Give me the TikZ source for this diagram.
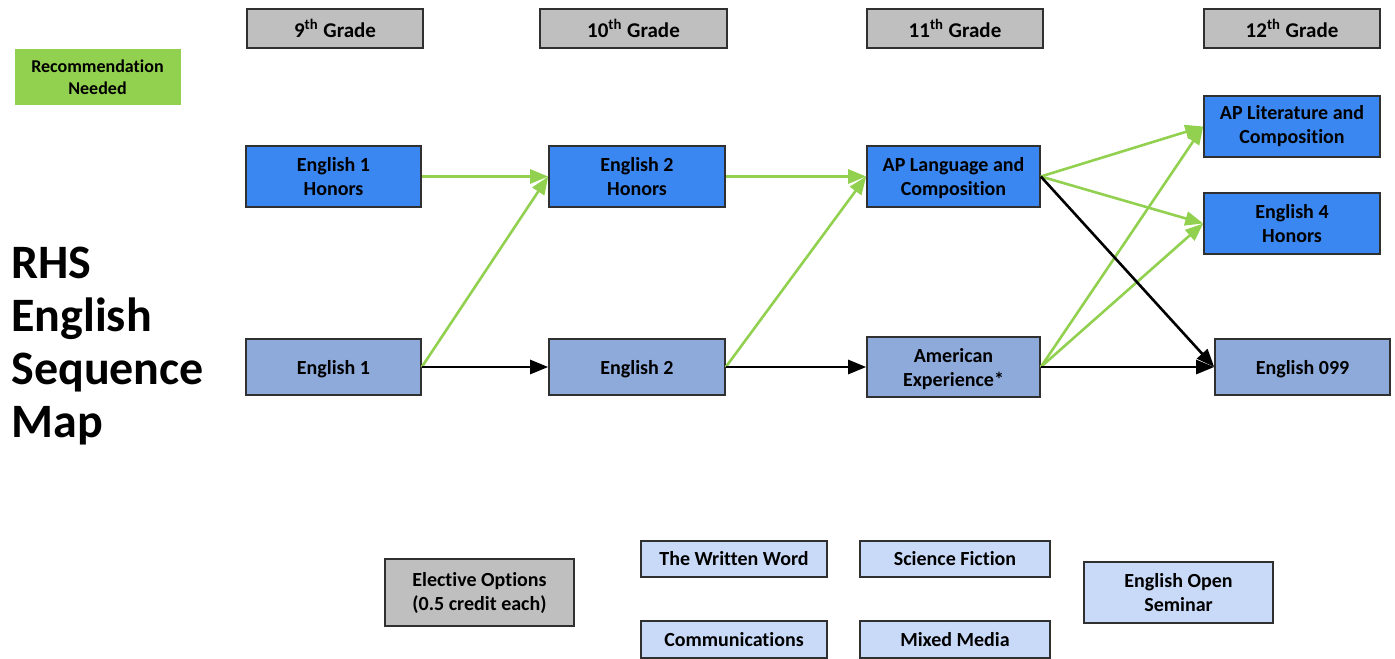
\documentclass[tikz,border=0pt]{standalone}
\usepackage{fontspec}
\setmainfont{Carlito}[Ligatures=NoCommon]
\usetikzlibrary{arrows.meta}

\definecolor{recgreen}{HTML}{92D050}
\definecolor{gradegray}{HTML}{BFBFBF}
\definecolor{honblue}{HTML}{3A87F2}
\definecolor{regblue}{HTML}{8EAADB}
\definecolor{elecblue}{HTML}{C9DAF8}
\definecolor{edgegray}{HTML}{303030}

\tikzset{
  course/.style={draw=edgegray, line width=0.8pt, inner sep=0pt, align=center,
    font=\bfseries\fontsize{10}{12}\selectfont},
  gradebox/.style={course, fill=gradegray, minimum width=88pt, minimum height=19.5pt,
    font=\bfseries\fontsize{10.5}{12}\selectfont},
  honorsbox/.style={course, fill=honblue, minimum width=88pt, minimum height=30.5pt},
  regbox/.style={course, fill=regblue, minimum width=88pt, minimum height=28pt, text depth=0pt},
  electbox/.style={course, fill=elecblue, minimum width=93pt, minimum height=18pt},
  recbox/.style={draw=recgreen, fill=recgreen, inner sep=0pt, align=center,
    minimum width=82.5pt, minimum height=27.5pt, font=\bfseries\fontsize{9}{11}\selectfont},
  gopath/.style={draw=recgreen, line width=1.3pt, -{Triangle[length=9pt,width=7pt]}},
  stdpath/.style={draw=black, line width=1.3pt, -{Triangle[length=9pt,width=7pt]}},
}

\begin{document}
\begin{tikzpicture}[x=0.5pt,y=-0.5pt]

\useasboundingbox (0,0) rectangle (1395,658);

% legend and title
\node [recbox] (rec) at (97.5,77) {Recommendation\\Needed};
\node [anchor=west, align=left, inner sep=0pt, font=\bfseries\fontsize{24}{26.5}\selectfont]
  (title) at (11,346) {RHS\\English\\Sequence\\Map};

% grade headers
\node [gradebox] (g9)  at (335,28.5)   {9\textsuperscript{th} Grade};
\node [gradebox, minimum width=93.5pt] (g10) at (633.5,28.5) {10\textsuperscript{th} Grade};
\node [gradebox] (g11) at (955,28.5)   {11\textsuperscript{th} Grade};
\node [gradebox] (g12) at (1292,28.5)  {12\textsuperscript{th} Grade};

% honors track
\node [honorsbox, minimum width=87.5pt] (eng1h) at (333.5,176.5) {English 1\\Honors};
\node [honorsbox] (eng2h) at (637,176.5) {English 2\\Honors};
\node [honorsbox, minimum width=86.5pt, text depth=0pt] (aplang) at (953.5,176.5) {AP Language and\\Composition};
\node [honorsbox] (aplit) at (1292,126.5) {AP Literature and\\Composition};
\node [honorsbox] (eng4h) at (1292,223.5) {English 4\\Honors};

% regular track
\node [regbox, minimum width=87.5pt] (eng1) at (333.5,367) {English 1};
\node [regbox] (eng2) at (637,367) {English 2};
\node [regbox, minimum width=86.5pt, minimum height=30pt] (amexp) at (953.5,367) {American\\Experience*};
\node [regbox, minimum width=87.5pt] (eng099) at (1302.5,367) {English 099};

% electives
\node [course, fill=gradegray, minimum width=94.5pt, minimum height=33.5pt]
  (elect) at (479.5,592.5) {Elective Options\\(0.5 credit each)};
\node [electbox] (written) at (734,559) {The Written Word};
\node [electbox, minimum height=18.5pt] (comm) at (734,639.5) {Communications};
\node [electbox, minimum width=95pt] (scifi) at (955,559) {Science Fiction};
\node [electbox, minimum width=95pt, minimum height=18.5pt] (mixed) at (955,639.5) {Mixed Media};
\node [electbox, minimum width=94.5pt, minimum height=30.5pt] (seminar) at (1178.5,592.5) {English Open\\Seminar};

% connectors
\draw [gopath] (eng1h.east) -- (eng2h.west);
\draw [gopath] (eng1.east) -- (eng2h.west);
\draw [gopath] (eng2h.east) -- (aplang.west);
\draw [gopath] (eng2.east) -- (aplang.west);
\draw [stdpath] (eng1.east) -- (eng2.west);
\draw [stdpath] (eng2.east) -- (amexp.west);

\draw [gopath] (aplang.east) -- (aplit.west);
\draw [gopath] (aplang.east) -- (eng4h.west);
\draw [gopath] (amexp.east) -- (aplit.west);
\draw [gopath] (amexp.east) -- (eng4h.west);
\draw [stdpath] (aplang.east) -- (eng099.west);
\draw [stdpath] (amexp.east) -- (eng099.west);

\end{tikzpicture}
\end{document}
